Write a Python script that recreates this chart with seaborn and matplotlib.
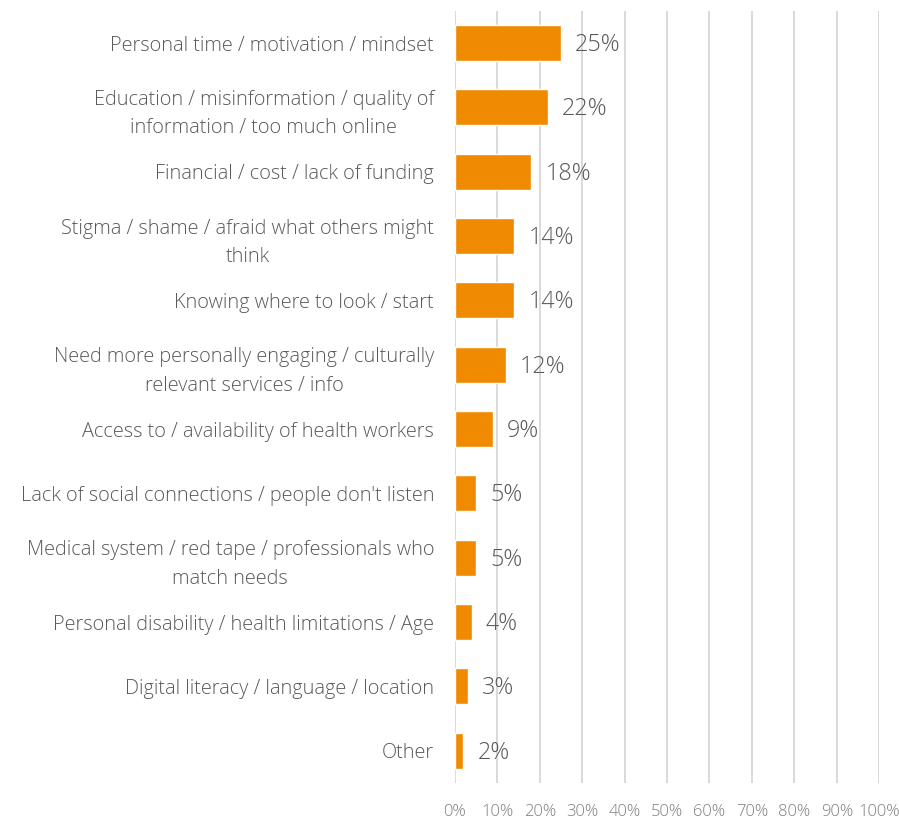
import matplotlib
matplotlib.use("Agg")
import matplotlib.pyplot as plt
import seaborn as sns
import pandas as pd
from matplotlib.ticker import FuncFormatter

categories = [
    "Personal time / motivation / mindset",
    "Education / misinformation / quality of\ninformation / too much online",
    "Financial / cost / lack of funding",
    "Stigma / shame / afraid what others might\nthink",
    "Knowing where to look / start",
    "Need more personally engaging / culturally\nrelevant services / info",
    "Access to / availability of health workers",
    "Lack of social connections / people don't listen",
    "Medical system / red tape / professionals who\nmatch needs",
    "Personal disability / health limitations / Age",
    "Digital literacy / language / location",
    "Other",
]
values = [25, 22, 18, 14, 14, 12, 9, 5, 5, 4, 3, 2]
x_ticks = list(range(0, 101, 10))

df = pd.DataFrame({"category": categories, "value": values})

sns.set_theme(style="white")
plt.rcParams["font.family"] = ["Open Sans", "DejaVu Sans"]

fig = plt.figure(figsize=(8.99, 8.19), dpi=100)
ax = fig.add_axes([0.506, 0.044, 0.472, 0.9426])

sns.barplot(data=df, y="category", x="value", hue="category",
            palette=["#F08A00"] * len(categories), legend=False,
            width=0.56, ax=ax, orient="h", saturation=1)

ax.set_xlim(0, 100)
ax.set_xticks(x_ticks)
ax.xaxis.set_major_formatter(FuncFormatter(lambda v, _: f"{int(v)}%"))
ax.grid(axis="x", color="#D9D9D9", linewidth=1.4)
ax.grid(axis="y", visible=False)
ax.set_axisbelow(True)
for s in ax.spines.values():
    s.set_visible(False)
ax.set_xlabel("")
ax.set_ylabel("")

ax.tick_params(axis="x", length=0, pad=15, labelsize=12, labelcolor="#7F7F7F")
ax.tick_params(axis="y", length=0, pad=15, labelsize=14.3, labelcolor="#595959")
for lbl in ax.get_yticklabels():
    lbl.set_fontweight("light")
    lbl.set_linespacing(1.55)
    lbl.set_horizontalalignment("right")
    lbl.set_multialignment("center")
for lbl in ax.get_xticklabels():
    lbl.set_fontweight("light")

for i, v in enumerate(values):
    ax.text(v + 3.3, i + 0.03, f"{v}%", va="center", ha="left",
            fontsize=16.8, color="#595959", fontweight="light")

fig.savefig("out.png", dpi=100)
